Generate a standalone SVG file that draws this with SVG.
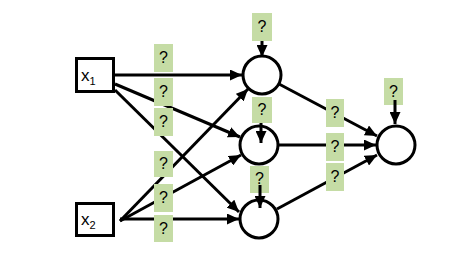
<svg xmlns="http://www.w3.org/2000/svg" width="464" height="275" viewBox="0 0 464 275">
<defs>
<marker id="ah" markerUnits="userSpaceOnUse" markerWidth="13" markerHeight="11" refX="12" refY="5.5" orient="auto">
<path d="M0,0 L12,5.5 L0,11 z" fill="#000"/>
</marker>
<style>
.box{fill:#fff;stroke:#000;stroke-width:3}
.node{fill:#fff;stroke:#000;stroke-width:3}
.edge{stroke:#000;stroke-width:3;fill:none;marker-end:url(#ah)}
.lbl rect{fill:#c5dca5}
.q{font-family:"Liberation Sans",Arial,sans-serif;font-size:16px;fill:#000;text-anchor:middle}
.in{font-family:"Liberation Sans",Arial,sans-serif;font-size:17px;fill:#000}
</style>
</defs>
<rect width="464" height="275" fill="#fff"/>
<g id="connectors">
<line class="edge" x1="115" y1="75" x2="242" y2="75"/>
<line class="edge" x1="115" y1="84" x2="240" y2="137"/>
<line class="edge" x1="115" y1="90" x2="239" y2="212"/>
<line class="edge" x1="120" y1="221" x2="248" y2="89"/>
<line class="edge" x1="120" y1="221" x2="241" y2="155"/>
<line class="edge" x1="120" y1="219" x2="239" y2="219"/>
<line class="edge" x1="279" y1="84" x2="377" y2="136"/>
<line class="edge" x1="278" y1="145" x2="376" y2="145"/>
<line class="edge" x1="277" y1="209" x2="377" y2="155"/>
</g>
<g id="x1"><rect class="box" x="76.5" y="58.5" width="37" height="33"/><text class="in" x="81" y="81">x<tspan font-size="11" dy="4">1</tspan></text></g>
<g id="x2"><rect class="box" x="76.5" y="203.5" width="37" height="32"/><text class="in" x="81" y="225">x<tspan font-size="11" dy="4">2</tspan></text></g>
<g id="h1"><circle class="node" cx="262" cy="75" r="19"/></g>
<g id="h2"><circle class="node" cx="259" cy="145" r="19"/></g>
<g id="h3"><circle class="node" cx="259" cy="219" r="19"/></g>
<g id="out"><circle class="node" cx="396" cy="145" r="19"/></g>
<g id="labels" class="lbl">
<g id="w1"><rect x="154" y="44" width="19" height="28"/><text class="q" x="163.5" y="63">?</text></g>
<g id="w2"><rect x="154" y="78" width="19" height="28"/><text class="q" x="163.5" y="97">?</text></g>
<g id="w3"><rect x="154" y="108" width="19" height="28"/><text class="q" x="163.5" y="127">?</text></g>
<g id="w4"><rect x="154" y="151" width="19" height="26"/><text class="q" x="163.5" y="169">?</text></g>
<g id="w5"><rect x="154" y="184" width="19" height="28"/><text class="q" x="163.5" y="203">?</text></g>
<g id="w6"><rect x="154" y="215" width="19" height="27"/><text class="q" x="163.5" y="234">?</text></g>
<g id="w7"><rect x="326" y="99" width="18" height="28"/><text class="q" x="335" y="118">?</text></g>
<g id="w8"><rect x="326" y="133" width="18" height="28"/><text class="q" x="335" y="152">?</text></g>
<g id="w9"><rect x="326" y="163" width="18" height="28"/><text class="q" x="335" y="182">?</text></g>
<g id="b1"><rect x="252" y="13" width="20" height="28"/><text class="q" x="262" y="32">?</text></g>
<g id="b2"><rect x="252" y="97" width="20" height="26"/><text class="q" x="262" y="115">?</text></g>
<g id="b3"><rect x="250" y="166" width="19" height="27"/><text class="q" x="259.5" y="184">?</text></g>
<g id="b4"><rect x="384" y="78" width="19" height="27"/><text class="q" x="393.5" y="97">?</text></g>
</g>
<g id="bias-connectors">
<line class="edge" x1="262" y1="41" x2="262" y2="57"/>
<line class="edge" x1="261" y1="123" x2="261" y2="143"/>
<line class="edge" x1="260" y1="185" x2="260" y2="208"/>
<line class="edge" x1="395" y1="100" x2="395" y2="124"/>
</g>
</svg>
